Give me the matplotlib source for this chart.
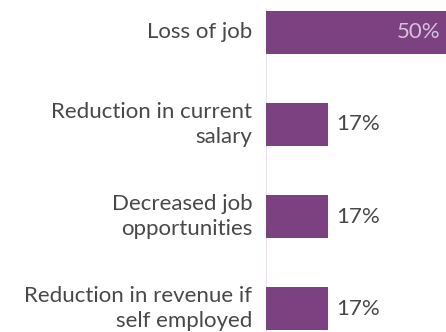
import numpy as np
import matplotlib.pyplot as plt

plt.rcParams['font.family'] = ['Lato', 'DejaVu Sans']

categories = ["Loss of job",
              "Reduction in current\nsalary",
              "Decreased job\nopportunities",
              "Reduction in revenue if\nself employed"]
values = [50, 17, 17, 17]
value_labels = ["50%", "17%", "17%", "17%"]

bar_color = "#7b4180"
text_color = "#484848"
fsize = 16

fig = plt.figure(figsize=(4.46, 3.32), dpi=100)
ax = fig.add_axes([266 / 446, 0, 180 / 446, 1])

y = np.arange(len(categories))
bars = ax.barh(y, values, height=0.466, color=bar_color)

ax.set_xlim(0, 49.5)
ax.set_ylim(3.252, -0.349)

for b, v, lab in zip(bars, values, value_labels):
    cy = b.get_y() + b.get_height() / 2
    if v > 40:
        ax.text(v - 1.9, cy, lab, ha="right", va="center", fontsize=fsize,
                color="#d6c3db")
    else:
        ax.text(v + 2.4, cy, lab, ha="left", va="center", fontsize=fsize,
                color=text_color)

for yi, cat in zip(y, categories):
    ax.text(-3.8, yi, cat, ha="right", va="center", fontsize=fsize,
            color=text_color, linespacing=1.3, clip_on=False)

# thin baseline along zero
ax.axvline(0, ymin=0, ymax=0.973, color="#e6dcea", lw=1.2, zorder=0)

for s in ax.spines.values():
    s.set_visible(False)
ax.set_xticks([])
ax.set_yticks([])

fig.savefig("out.png", dpi=100)
